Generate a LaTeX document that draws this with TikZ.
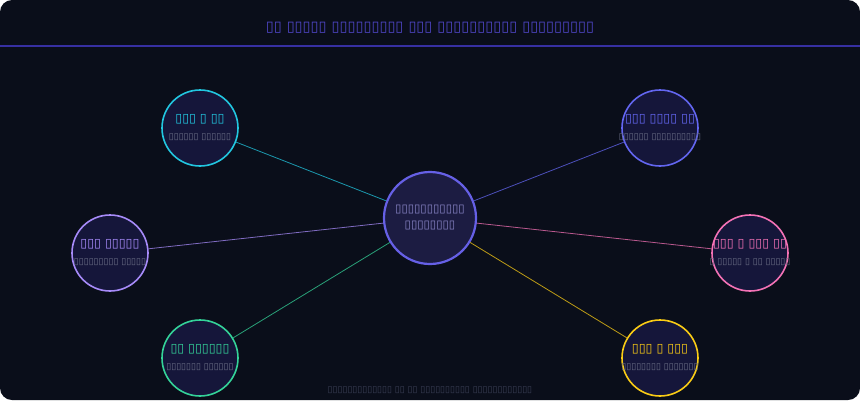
\documentclass[tikz,border=0pt]{standalone}
\usepackage{fontspec}
\newfontfamily\dv{DejaVu Sans}
\definecolor{bg}{HTML}{0A0E1A}
\definecolor{hdr}{HTML}{3730A3}
\definecolor{ttl}{HTML}{4F46C8}
\definecolor{hubfill}{HTML}{1C1C42}
\definecolor{hubline}{HTML}{6660E6}
\definecolor{nfill}{HTML}{15163A}
\definecolor{cyanc}{HTML}{22C7E0}
\definecolor{indc}{HTML}{6366F1}
\definecolor{lavc}{HTML}{A78BFA}
\definecolor{pinkc}{HTML}{F472B6}
\definecolor{grnc}{HTML}{34D399}
\definecolor{yelc}{HTML}{FACC15}
\definecolor{subc}{HTML}{6B6F86}
\definecolor{hubtxt}{HTML}{8A86C8}
\definecolor{footc}{HTML}{3A3F55}
\tikzset{
  hub/.style={circle, draw=hubline, line width=2.2pt, fill=hubfill, minimum size=92pt, inner sep=0pt, align=center},
  leaf/.style={circle, draw=#1, line width=1.6pt, fill=nfill, minimum size=76pt, inner sep=0pt, align=center},
  link/.style={draw=#1, line width=0.8pt, opacity=0.75},
}
\newcommand\ctf[1]{\makebox[0pt]{\dv\fontsize{11.5}{13}\selectfont #1}}
\newcommand\ttf[1]{\makebox[0pt]{\dv\fontsize{12.5}{13}\selectfont #1}}
\newcommand\stf[1]{\makebox[0pt]{\dv\fontsize{9}{10}\selectfont #1}}
\begin{document}
\begin{tikzpicture}[x=1pt,y=-1pt]
\fill[white] (0,0) rectangle (860,400);
\fill[bg, rounded corners=12pt] (0,0) rectangle (860,400);
\useasboundingbox (0,0) rectangle (860,400);
\node[text=ttl, font=\dv\fontsize{14.5}{16}\selectfont\bfseries] (title) at (430,28) {▯▯ ▯▯▯▯▯ ▯▯▯▯▯▯▯▯▯ ▯▯▯ ▯▯▯▯▯▯▯▯▯▯ ▯▯▯▯▯▯▯▯▯};
\coordinate (hl) at (0,46);
\coordinate (hr) at (860,46);
\draw[hdr, line width=1.5pt] (hl) -- (hr);

\node[hub] (c) at (430,218) {\textcolor{hubtxt}{\ctf{▯▯▯▯▯▯▯▯▯▯▯}}\\[4pt]\textcolor{hubtxt}{\ctf{▯▯▯▯▯▯▯▯}}};

\node[leaf=cyanc] (tl) at (200,128) {\textcolor{cyanc}{\ttf{▯▯▯ ▯ ▯▯}}\\[5pt]\textcolor{subc}{\stf{▯▯▯▯▯▯ ▯▯▯▯▯▯}}};
\node[leaf=indc] (tr) at (660,128) {\textcolor{indc}{\ttf{▯▯▯ ▯▯▯▯ ▯▯}}\\[5pt]\textcolor{subc}{\stf{▯▯▯▯▯▯ ▯▯▯▯▯▯▯▯▯▯}}};
\node[leaf=lavc] (l) at (110,253) {\textcolor{lavc}{\ttf{▯▯▯ ▯▯▯▯▯}}\\[5pt]\textcolor{subc}{\stf{▯▯▯▯▯▯▯▯▯ ▯▯▯▯▯}}};
\node[leaf=pinkc] (r) at (750,253) {\textcolor{pinkc}{\ttf{▯▯▯ ▯ ▯▯▯ ▯▯}}\\[5pt]\textcolor{subc}{\stf{▯ ▯▯▯▯▯ ▯ ▯▯ ▯▯▯▯▯}}};
\node[leaf=grnc] (bl) at (200,358) {\textcolor{grnc}{\ttf{▯▯ ▯▯▯▯▯▯}}\\[5pt]\textcolor{subc}{\stf{▯▯▯▯▯▯▯ ▯▯▯▯▯▯}}};
\node[leaf=yelc] (br) at (660,358) {\textcolor{yelc}{\ttf{▯▯▯ ▯ ▯▯▯}}\\[5pt]\textcolor{subc}{\stf{▯▯▯▯▯▯▯▯ ▯▯▯▯▯▯▯}}};

\draw[link=cyanc] (c) -- (tl);
\draw[link=indc] (c) -- (tr);
\draw[link=lavc] (c) -- (l);
\draw[link=pinkc] (c) -- (r);
\draw[link=grnc] (c) -- (bl);
\draw[link=yelc] (c) -- (br);

\node[text=footc, font=\dv\fontsize{9}{10}\selectfont] (foot) at (430,390) {▯▯▯▯▯▯▯▯▯▯▯▯▯ ▯▯ ▯▯ ▯▯▯▯▯▯▯▯▯▯ ▯▯▯▯▯▯▯▯▯▯▯▯};
\end{tikzpicture}
\end{document}
